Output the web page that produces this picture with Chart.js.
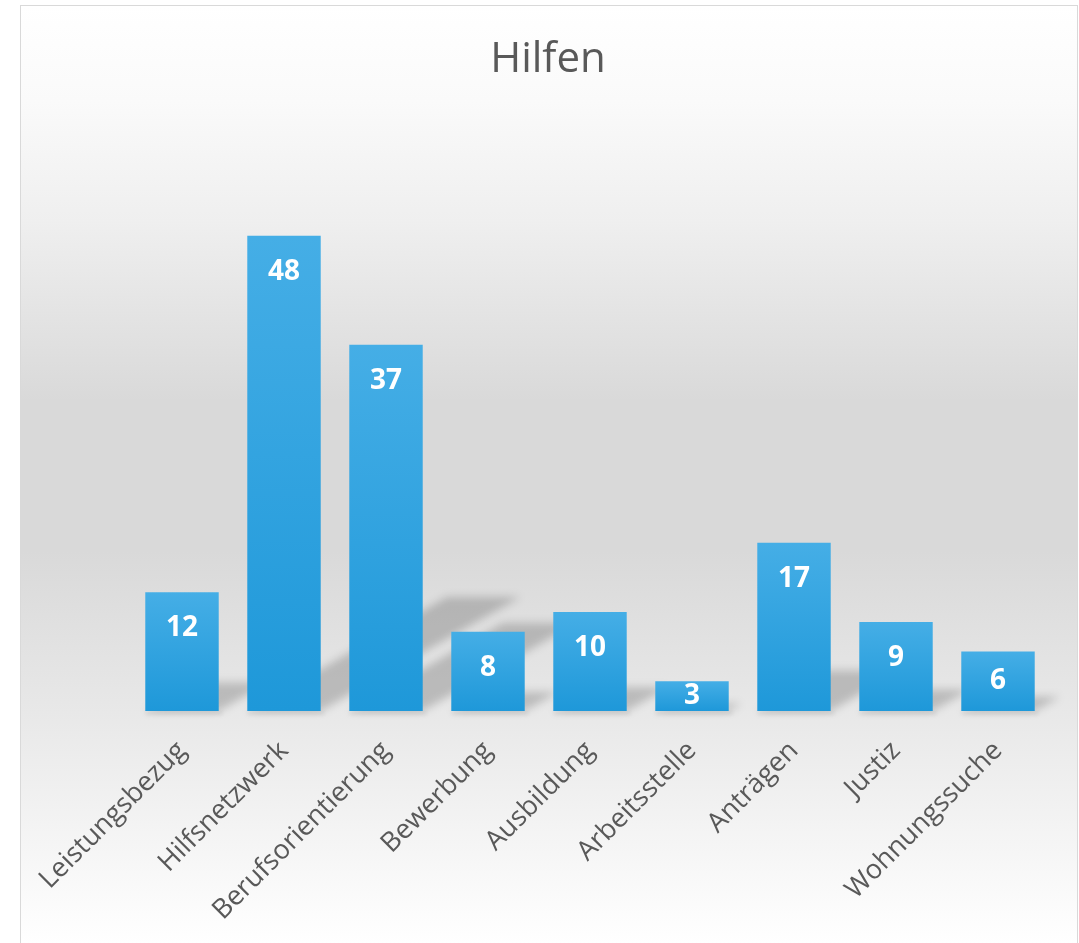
<!DOCTYPE html>
<html>
<head>
    <meta charset="utf-8">
    <title>Hilfen</title>
    <script src="https://cdn.jsdelivr.net/npm/chart.js"></script>
    <style>
        body { margin: 0; overflow: hidden; background: #ffffff; }
        .frame {
            position: absolute; left: 20px; top: 5px; width: 1056px; height: 960px;
            border: 1px solid #d9d9d9;
            background: linear-gradient(to bottom, #ffffff 0px, #fafafa 95px, #efefef 215px, #d9d9d9 395px, #d9d9d9 545px, #e8e8e8 706px, #ffffff 938px);
        }
        .chart-box { position: absolute; left: 0; top: 0; width: 1079px; height: 943px; }
    </style>
</head>
<body>
    <div class="frame"></div>
    <div class="chart-box">
        <canvas id="myChart"></canvas>
    </div>

    <script>
        // Daten aus dem Diagramm
        const chartTitle = 'Hilfen';
        const categories = ['Leistungsbezug', 'Hilfsnetzwerk', 'Berufsorientierung', 'Bewerbung', 'Ausbildung', 'Arbeitsstelle', 'Anträgen', 'Justiz', 'Wohnungssuche'];
        const values = [12, 48, 37, 8, 10, 3, 17, 9, 6];
        const yRange = [0, 50];

        // Verlauf für jeden Balken (hell oben, dunkler unten)
        function barGradient(context) {
            const chart = context.chart;
            if (!chart.chartArea) return '#2ea3df';
            const y = chart.scales.y;
            const top = y.getPixelForValue(context.raw);
            const base = y.getPixelForValue(0);
            const g = chart.ctx.createLinearGradient(0, top, 0, base);
            g.addColorStop(0, '#45aee6');
            g.addColorStop(1, '#1e98d9');
            return g;
        }

        // Titel mittig über der ganzen Fläche
        const titlePlugin = {
            id: 'centerTitle',
            beforeDraw(chart) {
                const c = chart.ctx;
                c.save();
                c.font = '42px "Open Sans"';
                c.fillStyle = '#595959';
                c.textAlign = 'center';
                c.textBaseline = 'alphabetic';
                c.fillText(chartTitle, 548, 72);
                c.restore();
            }
        };

        // perspektivischer Schatten hinter den Balken (ein Pfad, damit sich nichts doppelt abdunkelt)
        const shadowPlugin = {
            id: 'barShadow',
            beforeDatasetsDraw(chart) {
                const c = chart.ctx;
                const meta = chart.getDatasetMeta(0);
                c.save();
                c.filter = 'blur(4px)';
                c.fillStyle = 'rgba(0,0,0,0.19)';
                c.beginPath();
                meta.data.forEach(bar => {
                    const left = bar.x - bar.width / 2;
                    const right = bar.x + bar.width / 2;
                    const h = bar.base - bar.y;
                    const dy = h * 0.24;
                    const dx = dy * 1.75;
                    c.moveTo(left, bar.base);
                    c.lineTo(right, bar.base);
                    c.lineTo(right + dx, bar.base - dy);
                    c.lineTo(left + dx, bar.base - dy);
                    c.closePath();
                });
                c.fill();
                c.filter = 'blur(2px)';
                c.fillStyle = 'rgba(0,0,0,0.07)';
                meta.data.forEach(bar => {
                    c.fillRect(bar.x - bar.width / 2, bar.base, bar.width + 4, 4);
                });
                c.restore();
            }
        };

        // Werte in den Balken
        const valueLabels = {
            id: 'valueLabels',
            afterDatasetsDraw(chart) {
                const c = chart.ctx;
                const meta = chart.getDatasetMeta(0);
                c.save();
                c.font = 'bold 28px "Open Sans"';
                c.fillStyle = '#ffffff';
                c.textAlign = 'center';
                c.textBaseline = 'middle';
                meta.data.forEach((bar, i) => {
                    const ly = Math.min(bar.y + 36, (bar.y + bar.base) / 2);
                    c.fillText(String(values[i]), bar.x, ly);
                });
                c.restore();
            }
        };

        const ctx = document.getElementById('myChart').getContext('2d');
        const myChart = new Chart(ctx, {
            type: 'bar',
            data: {
                labels: categories,
                datasets: [{
                    data: values,
                    backgroundColor: barGradient,
                    borderWidth: 0,
                    barPercentage: 0.8,
                    categoryPercentage: 0.9
                }]
            },
            options: {
                responsive: true,
                maintainAspectRatio: false,
                animation: false,
                layout: {
                    padding: { left: 131, right: 30, top: 216, bottom: 0 }
                },
                plugins: {
                    legend: { display: false },
                    tooltip: { enabled: false },
                    title: { display: false }
                },
                scales: {
                    x: {
                        grid: { display: false, drawTicks: false },
                        border: { display: false },
                        ticks: {
                            color: '#595959',
                            font: { family: 'Open Sans', size: 27 },
                            maxRotation: 45,
                            minRotation: 45,
                            padding: 24,
                            autoSkip: false
                        },
                        afterFit(scale) {
                            scale.height = 232;
                        }
                    },
                    y: {
                        display: false,
                        min: yRange[0],
                        max: yRange[1]
                    }
                }
            },
            plugins: [titlePlugin, shadowPlugin, valueLabels]
        });
    </script>
</body>
</html>
